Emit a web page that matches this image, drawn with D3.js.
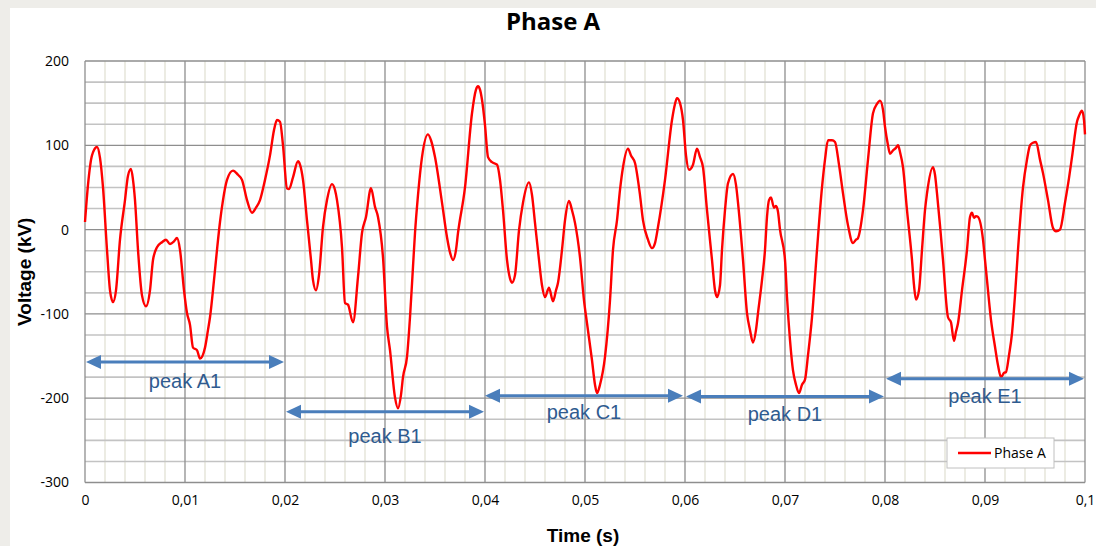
<!DOCTYPE html>
<html>
<head>
<meta charset="utf-8">
<script src="https://cdn.jsdelivr.net/npm/d3@7"></script>
<style>
  html, body { margin: 0; padding: 0; background: #eeede9; }
  svg { display: block; }
</style>
</head>
<body>
<svg id="chart" width="1096" height="546"></svg>
<script>
// Phase A voltage waveform, time in seconds, voltage in kV
const timeS = [
  0.0000, 0.0003, 0.0007, 0.0012, 0.0015, 0.0018, 0.0022, 0.0025, 0.0028, 0.0031,
  0.0035, 0.0040, 0.0043, 0.0046, 0.0048, 0.0050, 0.0053, 0.0057, 0.0061, 0.0065,
  0.0068, 0.0072, 0.0077, 0.0081, 0.0085, 0.0089, 0.0092, 0.0095, 0.0099, 0.0102,
  0.0105, 0.0108, 0.0112, 0.0115, 0.0120, 0.0123, 0.0125, 0.0129, 0.0132, 0.0135,
  0.0138, 0.0142, 0.0148, 0.0153, 0.0157, 0.0162, 0.0167, 0.0171, 0.0175, 0.0180,
  0.0185, 0.0189, 0.0192, 0.0195, 0.0198, 0.0202, 0.0204, 0.0208, 0.0213, 0.0215,
  0.0218, 0.0222, 0.0226, 0.0228, 0.0231, 0.0234, 0.0238, 0.0242, 0.0247, 0.0250,
  0.0252, 0.0257, 0.0260, 0.0263, 0.0268, 0.0273, 0.0277, 0.0281, 0.0286, 0.0290,
  0.0293, 0.0298, 0.0302, 0.0305, 0.0310, 0.0313, 0.0316, 0.0318, 0.0322, 0.0325,
  0.0328, 0.0330, 0.0333, 0.0337, 0.0343, 0.0346, 0.0350, 0.0357, 0.0362, 0.0365,
  0.0368, 0.0371, 0.0373, 0.0380, 0.0387, 0.0391, 0.0393, 0.0395, 0.0397, 0.0400,
  0.0403, 0.0407, 0.0412, 0.0415, 0.0418, 0.0422, 0.0425, 0.0427, 0.0430, 0.0434,
  0.0438, 0.0444, 0.0447, 0.0450, 0.0454, 0.0457, 0.0460, 0.0464, 0.0468, 0.0471,
  0.0473, 0.0477, 0.0480, 0.0484, 0.0487, 0.0490, 0.0495, 0.0499, 0.0502, 0.0507,
  0.0510, 0.0512, 0.0515, 0.0520, 0.0525, 0.0528, 0.0532, 0.0535, 0.0538, 0.0543,
  0.0546, 0.0550, 0.0555, 0.0558, 0.0563, 0.0567, 0.0570, 0.0573, 0.0580, 0.0587,
  0.0590, 0.0592, 0.0595, 0.0598, 0.0601, 0.0604, 0.0608, 0.0612, 0.0615, 0.0618,
  0.0622, 0.0627, 0.0630, 0.0632, 0.0635, 0.0637, 0.0640, 0.0643, 0.0648, 0.0651,
  0.0653, 0.0658, 0.0662, 0.0665, 0.0668, 0.0671, 0.0673, 0.0677, 0.0680, 0.0682,
  0.0684, 0.0686, 0.0689, 0.0691, 0.0693, 0.0695, 0.0700, 0.0702, 0.0705, 0.0708,
  0.0711, 0.0714, 0.0717, 0.0720, 0.0723, 0.0727, 0.0732, 0.0737, 0.0740, 0.0743,
  0.0747, 0.0750, 0.0754, 0.0758, 0.0763, 0.0768, 0.0771, 0.0773, 0.0778, 0.0783,
  0.0788, 0.0792, 0.0795, 0.0798, 0.0800, 0.0803, 0.0805, 0.0808, 0.0811, 0.0813,
  0.0815, 0.0818, 0.0822, 0.0827, 0.0829, 0.0831, 0.0834, 0.0837, 0.0840, 0.0842,
  0.0848, 0.0850, 0.0852, 0.0855, 0.0858, 0.0863, 0.0866, 0.0869, 0.0871, 0.0873,
  0.0877, 0.0882, 0.0885, 0.0887, 0.0889, 0.0891, 0.0893, 0.0898, 0.0900, 0.0902,
  0.0906, 0.0910, 0.0913, 0.0916, 0.0919, 0.0921, 0.0924, 0.0927, 0.0930, 0.0933,
  0.0938, 0.0942, 0.0945, 0.0948, 0.0951, 0.0955, 0.0958, 0.0963, 0.0968, 0.0971,
  0.0975, 0.0980, 0.0984, 0.0987, 0.0992, 0.0994, 0.0997, 0.0999, 0.1000
];
const voltageKV = [
     9,   53,   88,   98,   85,   50,  -24,  -72,  -86,  -72,
   -12,   35,   64,   72,   59,   35,  -24,  -78,  -91,  -72,
   -36,  -21,  -15,  -12,  -17,  -14,  -10,  -24,  -72,  -99,
  -113, -140, -143, -153, -140, -119, -104,  -60,  -24,    9,
    35,   59,   70,   65,   59,   35,   20,   26,   35,   59,
    88,  118,  130,  128,  100,   49,   48,   62,   81,   77,
    59,   11,  -36,  -60,  -72,  -54,    3,   35,   54,   47,
    35,  -21,  -87,  -89, -110,  -56,   -4,   15,   49,   27,
    15,  -33, -115, -143, -199, -212, -196, -175, -151, -104,
   -44,   -4,   41,   86,  113,  106,   86,   32,   -9,  -27,
   -36,  -24,   -4,   50,  138,  166,  170,  166,  154,  124,
    86,   80,   77,   59,   23,  -36,  -58,  -63,  -54,   -1,
    32,   56,   41,    8,  -36,  -66,  -80,  -69,  -85,  -72,
   -63,  -24,   11,   34,   23,    8,  -33,  -84, -111, -155,
  -184, -194, -184, -151,  -84,  -24,   11,   47,   74,   96,
    88,   79,   41,   11,  -12,  -22,  -16,    3,   59,  130,
   149,  156,  150,  130,   88,   71,   77,   96,   86,   74,
    23,  -36,  -72,  -80,  -66,  -24,   23,   55,   66,   53,
    32,  -36,  -99, -119, -134, -119,  -99,  -60,  -24,   15,
    35,   38,   26,   28,   21,    0,  -36,  -80, -131, -167,
  -184, -194, -184, -178, -149, -104,  -24,   50,   83,  106,
   106,  104,   77,   43,    5,  -16,  -12,  -10,   23,   83,
   138,  149,  153,  142,  122,  100,   90,   94,   97,  100,
    92,   74,   23,  -36,  -66,  -83,  -72,  -24,   23,   43,
    74,   65,   43,    5,  -36, -104, -110, -132, -121, -111,
   -72,  -24,   15,   20,   14,   16,   15,  -12,  -36,  -60,
  -107, -139, -161, -175, -170, -169, -149, -123,  -78,  -24,
    50,   83,  100,  103,  104,   83,   67,   35,    2,   -2,
     0,   32,   61,   86,  128,  135,  141,  130,  113
];

// Axis ticks
const xTicks = [0, 0.01, 0.02, 0.03, 0.04, 0.05, 0.06, 0.07, 0.08, 0.09, 0.1];
const xTickLabels = ["0", "0,01", "0,02", "0,03", "0,04", "0,05", "0,06", "0,07", "0,08", "0,09", "0,1"];
const yTicks = [-300, -200, -100, 0, 100, 200];
const yTickLabels = ["-300", "-200", "-100", "0", "100", "200"];

// Half-period annotations: start/end time, arrow level and label level (kV)
const peakNames = ["peak A1", "peak B1", "peak C1", "peak D1", "peak E1"];
const peakStart = [0.0001, 0.0201, 0.0400, 0.0601, 0.0801];
const peakEnd   = [0.0199, 0.0399, 0.0598, 0.0799, 0.0999];
const peakLevel = [-157, -216, -197, -198, -177];
const labelLevel = [-180, -245, -216, -219, -197];

const seriesName = "Phase A";

const svg = d3.select("#chart");
const W = 1096, H = 546;
const margin = { left: 85, right: 11, top: 61, bottom: 63.5 };
const plotW = W - margin.left - margin.right;
const plotH = H - margin.top - margin.bottom;

// white chart canvas
svg.append("rect").attr("x", 10).attr("y", 8).attr("width", W - 10).attr("height", H - 8).attr("fill", "#ffffff");

const x = d3.scaleLinear().domain([0, 0.1]).range([margin.left, margin.left + plotW]);
const y = d3.scaleLinear().domain([-300, 200]).range([margin.top + plotH, margin.top]);

const grid = svg.append("g");
// minor vertical gridlines every 0.002 s
grid.selectAll("line.vminor").data(d3.range(0, 0.1001, 0.002).filter((d, i) => i % 5 !== 0))
  .join("line").attr("class", "vminor")
  .attr("x1", d => x(d)).attr("x2", d => x(d))
  .attr("y1", y(200)).attr("y2", y(-300))
  .attr("stroke", "#e8e7dc").attr("stroke-width", 1.6);
// minor horizontal gridlines every 25 kV
grid.selectAll("line.hminor").data(d3.range(-300, 201, 25).filter(d => d % 100 !== 0))
  .join("line").attr("class", "hminor")
  .attr("x1", x(0)).attr("x2", x(0.1))
  .attr("y1", d => y(d)).attr("y2", d => y(d))
  .attr("stroke", "#c3c3c3").attr("stroke-width", 1.6);
// major gridlines
grid.selectAll("line.vmajor").data(xTicks)
  .join("line").attr("class", "vmajor")
  .attr("x1", d => x(d)).attr("x2", d => x(d))
  .attr("y1", y(200)).attr("y2", y(-300))
  .attr("stroke", "#8e8e8e").attr("stroke-width", 1.3);
grid.selectAll("line.hmajor").data(yTicks)
  .join("line").attr("class", "hmajor")
  .attr("x1", x(0)).attr("x2", x(0.1))
  .attr("y1", d => y(d)).attr("y2", d => y(d))
  .attr("stroke", "#8e8e8e").attr("stroke-width", 1.3);

// axes (labels only)
const xAxis = d3.axisBottom(x).tickValues(xTicks).tickSize(0).tickPadding(13)
  .tickFormat((d, i) => xTickLabels[i]);
const gx = svg.append("g").attr("transform", `translate(0,${y(-300)})`).call(xAxis);
gx.select(".domain").remove();
gx.selectAll("text").attr("font-family", "'Open Sans', sans-serif").attr("font-size", 14).attr("fill", "#000");

const yAxis = d3.axisLeft(y).tickValues(yTicks).tickSize(0).tickPadding(16)
  .tickFormat((d, i) => yTickLabels[i]);
const gy = svg.append("g").attr("transform", `translate(${x(0)},0)`).call(yAxis);
gy.select(".domain").remove();
gy.selectAll("text").attr("font-family", "'Open Sans', sans-serif").attr("font-size", 14).attr("fill", "#000");

// waveform
const pts = timeS.map((t, i) => [t, voltageKV[i]]);
const line = d3.line().x(d => x(d[0])).y(d => y(d[1])).curve(d3.curveMonotoneX);
svg.append("path").datum(pts)
  .attr("d", line)
  .attr("fill", "none").attr("stroke", "#ff0000").attr("stroke-width", 2.4)
  .attr("stroke-linejoin", "round");

// double-headed arrows marking each half-period
const arrowColor = "#4a7ebb";
const headLen = 15, headHalf = 7;
const ann = svg.append("g");
peakNames.forEach((name, i) => {
  const x0 = x(peakStart[i]), x1 = x(peakEnd[i]), yy = y(peakLevel[i]);
  ann.append("line")
    .attr("x1", x0 + headLen - 2).attr("x2", x1 - headLen + 2)
    .attr("y1", yy).attr("y2", yy)
    .attr("stroke", arrowColor).attr("stroke-width", 3);
  ann.append("path")
    .attr("d", `M${x0},${yy}L${x0 + headLen},${yy - headHalf}L${x0 + headLen},${yy + headHalf}Z`)
    .attr("fill", arrowColor);
  ann.append("path")
    .attr("d", `M${x1},${yy}L${x1 - headLen},${yy - headHalf}L${x1 - headLen},${yy + headHalf}Z`)
    .attr("fill", arrowColor);
  ann.append("text")
    .attr("x", (x0 + x1) / 2).attr("y", y(labelLevel[i]))
    .attr("dy", "0.35em")
    .attr("text-anchor", "middle")
    .attr("font-family", "'Liberation Sans', Arial, sans-serif")
    .attr("font-size", 20)
    .attr("fill", "#2f5b8f")
    .text(name);
});

// legend
const lg = svg.append("g").attr("transform", "translate(947,438)");
lg.append("rect").attr("width", 107).attr("height", 30)
  .attr("fill", "#ffffff").attr("stroke", "#c0c0c0").attr("stroke-width", 1);
lg.append("line").attr("x1", 11).attr("x2", 44).attr("y1", 15).attr("y2", 15)
  .attr("stroke", "#ff0000").attr("stroke-width", 2.4);
lg.append("text").attr("x", 47).attr("y", 15).attr("dy", "0.35em")
  .attr("font-family", "'Open Sans', sans-serif").attr("font-size", 14).attr("fill", "#000")
  .text(seriesName);

// titles
svg.append("text").attr("x", 553).attr("y", 22).attr("dy", "0.35em")
  .attr("text-anchor", "middle")
  .attr("font-family", "'Open Sans', sans-serif").attr("font-weight", "bold").attr("font-size", 24)
  .text("Phase A");
svg.append("text").attr("transform", `translate(24,${y(-50)}) rotate(-90)`)
  .attr("dy", "0.35em").attr("text-anchor", "middle")
  .attr("font-family", "'Liberation Sans', Arial, sans-serif").attr("font-weight", "bold").attr("font-size", 19)
  .text("Voltage (kV)");
svg.append("text").attr("x", 583).attr("y", 535).attr("dy", "0.35em")
  .attr("text-anchor", "middle")
  .attr("font-family", "'Liberation Sans', Arial, sans-serif").attr("font-weight", "bold").attr("font-size", 19)
  .text("Time (s)");
</script>
</body>
</html>
